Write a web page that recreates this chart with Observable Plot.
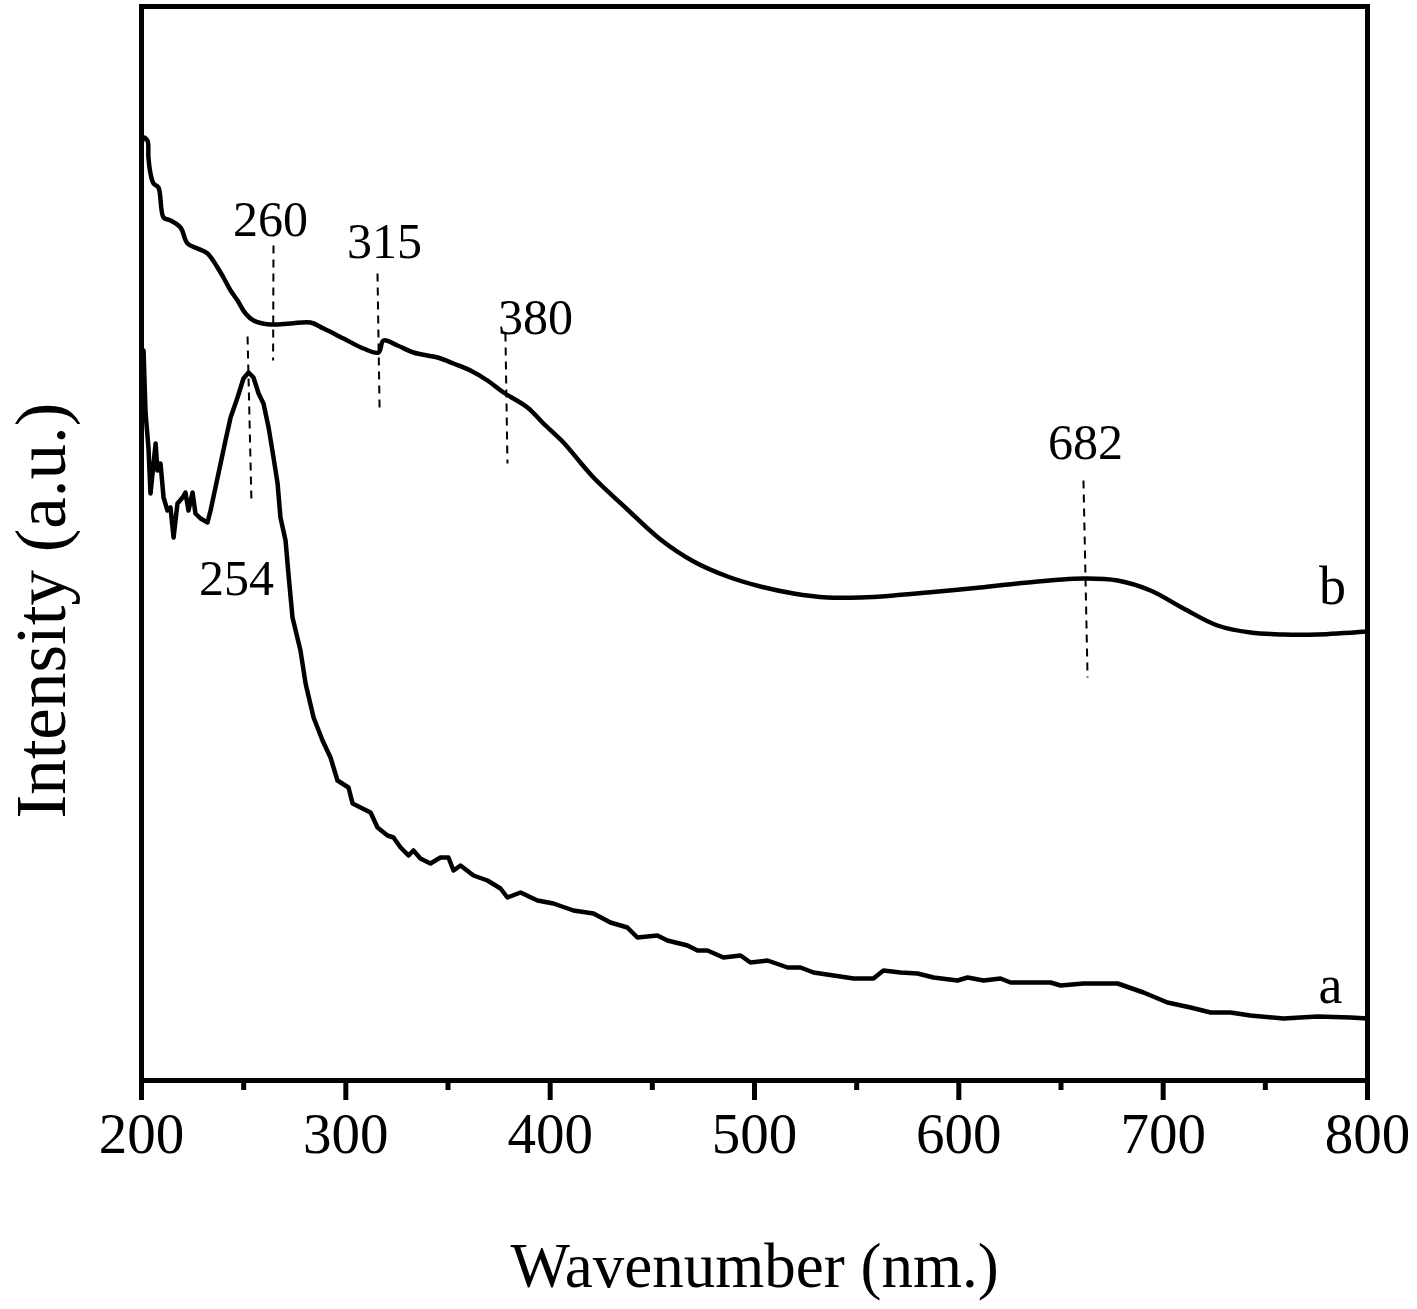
<!DOCTYPE html>
<html>
<head>
<meta charset="utf-8">
<script src="https://cdn.jsdelivr.net/npm/d3@7"></script>
<script src="https://cdn.jsdelivr.net/npm/@observablehq/plot@0.6"></script>
<style>
  html, body { margin: 0; padding: 0; background: #fff; }
  #chart { width: 1417px; height: 1309px; }
</style>
</head>
<body>
<div id="chart"></div>
<script>
// ---- Data (intensity in arbitrary units) ----
const bWavelength = [200, 201.0, 202.9, 203.4, 204.4, 205.9, 208.3, 210.8, 214.2, 219.1, 222.5, 227.4, 232.3, 237.2, 240.1, 243.6, 247.0, 250.9, 254.8, 263.1, 272.9, 282.7, 289.1, 298.9, 308.6, 316.0, 318.4, 325.3, 333.1, 344.9, 352.7, 361.0, 369.3, 377.2, 388.9, 396.7, 406.5, 414.8, 421.2, 437.8, 454.0, 470.2, 486.8, 502.9, 519.1, 535.7, 551.9, 568.0, 584.7, 610.6, 628.7, 661.0, 677.7, 693.8, 710.0, 726.6, 742.7, 758.9, 775.5, 800];
const bIntensity  = [935, 943, 940, 923, 907, 897, 893, 863, 860, 853, 837, 832, 827, 813, 803, 790, 780, 767, 760, 756, 757, 758, 752, 742, 732, 728, 740, 735, 728, 723, 717, 710, 700, 688, 673, 657, 638, 618, 603, 571, 541, 519, 504, 494, 487, 483, 483, 485, 488, 493, 497, 502, 500, 490, 472, 455, 448, 446, 446, 449];

const aWavelength = [200.6, 201.0, 202.0, 203.4, 204.4, 206.9, 207.8, 209.3, 210.8, 212.7, 214.2, 215.7, 217.6, 220.1, 221.5, 223.0, 225.0, 226.4, 228.9, 232.3, 233.8, 236.2, 238.7, 241.1, 243.6, 247.0, 249.9, 252.4, 254.8, 257.3, 259.7, 262.2, 264.6, 266.6, 268.0, 270.5, 271.9, 273.9, 277.8, 280.3, 284.2, 288.6, 292.5, 295.9, 301.3, 303.3, 307.2, 312.1, 315.5, 320.4, 323.3, 326.8, 330.7, 333.1, 336.5, 341.4, 346.3, 350.2, 352.7, 356.1, 362.5, 369.3, 375.7, 379.1, 385.5, 393.8, 401.6, 411.4, 421.2, 429.5, 437.8, 442.7, 452.5, 457.4, 467.2, 472.1, 477.0, 484.8, 493.2, 498.0, 506.4, 516.2, 522.5, 528.9, 538.7, 548.5, 558.2, 563.1, 571.5, 579.8, 587.6, 599.4, 604.3, 612.1, 620.4, 625.3, 636.5, 644.9, 649.8, 661.0, 669.3, 677.7, 690.4, 702.1, 713.4, 723.2, 732.9, 742.7, 758.9, 775.5, 791.7, 800];
const aIntensity  = [700, 730, 667, 633, 587, 637, 610, 617, 583, 570, 573, 543, 577, 583, 588, 570, 588, 567, 562, 558, 570, 593, 617, 640, 663, 683, 702, 708, 703, 687, 677, 653, 623, 597, 563, 540, 507, 463, 430, 397, 363, 340, 323, 300, 293, 277, 273, 268, 253, 245, 243, 233, 225, 230, 222, 217, 223, 223, 210, 215, 205, 200, 192, 183, 188, 180, 177, 170, 167, 158, 153, 143, 145, 140, 135, 130, 130, 123, 125, 118, 120, 113, 113, 108, 105, 102, 102, 110, 108, 107, 103, 100, 103, 100, 102, 98, 98, 98, 95, 97, 97, 97, 88, 78, 73, 68, 68, 65, 62, 64, 63, 62];

// Axis ticks
const xMajorTicks = [200, 300, 400, 500, 600, 700, 800];
const xMinorTicks = [250, 350, 450, 550, 650, 750];

// Peak annotations
const peakLabels     = ["260", "315", "380", "254", "682"];
const peakLabelNm    = [263.1, 318.9, 392.8, 246.5, 662.0];
const peakLabelI     = [845, 823, 747, 486, 622];
// Dashed marker lines (start / end)
const markerNm1 = [264.6, 315.5, 378.1, 251.9, 661.0];
const markerI1  = [835, 807, 747, 744, 600];
const markerNm2 = [264.4, 316.5, 379.1, 253.8, 663.0];
const markerI2  = [720, 673, 617, 580, 403];

// Curve labels
const curveNames = ["b", "a"];
const curveNameNm = [782.9, 781.9];
const curveNameI  = [477, 78];

// ---- Build tables ----
const bData = bWavelength.map((x, i) => ({x, y: bIntensity[i]}));
const aData = aWavelength.map((x, i) => ({x, y: aIntensity[i]}));
const peakText = peakLabels.map((t, i) => ({t, x: peakLabelNm[i], y: peakLabelI[i]}));
const markers = markerNm1.map((x1, i) => ({x1, y1: markerI1[i], x2: markerNm2[i], y2: markerI2[i]}));
const names = curveNames.map((t, i) => ({t, x: curveNameNm[i], y: curveNameI[i]}));

const font = "'Liberation Serif', 'Times New Roman', Times, serif";

const chart = Plot.plot({
  width: 1417,
  height: 1309,
  marginLeft: 141,
  marginRight: 50,
  marginTop: 6,
  marginBottom: 229,
  style: {fontFamily: font, background: "white", color: "black", overflow: "visible"},
  x: {domain: [200, 800]},
  y: {domain: [0, 1074], axis: null},
  marks: [
    Plot.line(aData, {x: "x", y: "y", stroke: "black", strokeWidth: 4.5, strokeLinejoin: "round"}),
    Plot.line(bData, {x: "x", y: "y", stroke: "black", strokeWidth: 4.5, strokeLinejoin: "round", curve: "catmull-rom"}),
    Plot.link(markers, {x1: "x1", y1: "y1", x2: "x2", y2: "y2", stroke: "black", strokeWidth: 2, strokeDasharray: "8,6"}),
    Plot.text(peakText, {x: "x", y: "y", text: "t", fontSize: 50, lineAnchor: "bottom", fill: "black"}),
    Plot.text(names, {x: "x", y: "y", text: "t", fontSize: 54, lineAnchor: "bottom", fill: "black"}),
    Plot.frame({stroke: "black", strokeWidth: 5}),
    Plot.axisX({ticks: xMajorTicks, tickSize: 20, tickPadding: 12, fontSize: 57, strokeWidth: 5, label: null, tickFormat: d => String(d)}),
    Plot.axisX({ticks: xMinorTicks, tickSize: 10, strokeWidth: 5, label: null, tickFormat: () => ""}),
    Plot.text(["Wavenumber (nm.)"], {frameAnchor: "bottom", dy: 186, fontSize: 63, textAnchor: "middle", lineAnchor: "middle", fill: "black"}),
    Plot.text(["Intensity (a.u.)"], {frameAnchor: "left", dx: -99, dy: 67, rotate: -90, fontSize: 71, textAnchor: "middle", lineAnchor: "middle", fill: "black"})
  ]
});
document.getElementById("chart").appendChild(chart);
</script>
</body>
</html>
